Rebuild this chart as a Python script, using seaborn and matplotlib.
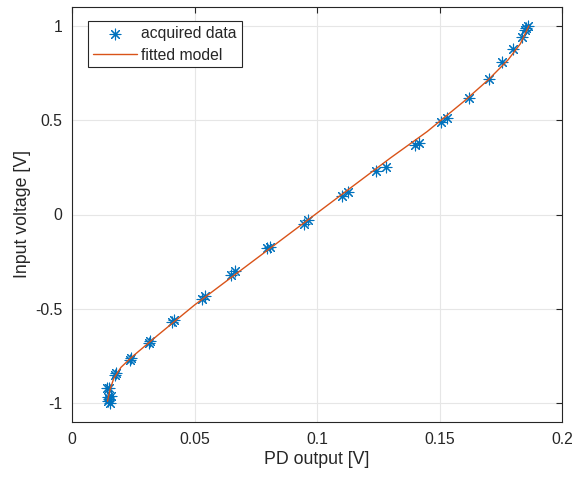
import numpy as np
import pandas as pd
import matplotlib
matplotlib.use("Agg")
import matplotlib.pyplot as plt
import seaborn as sns

# pontos medidos (PD output [V], tensão de entrada [V])
pd_out = [0.0143, 0.0150, 0.0145, 0.0152, 0.0155, 0.0148, 0.0158, 0.0175, 0.0180,
          0.0235, 0.0240, 0.0315, 0.0320, 0.0410, 0.0415, 0.0530, 0.0543,
          0.0650, 0.0665, 0.0795, 0.0810, 0.0945, 0.0965, 0.1100, 0.1125,
          0.1240, 0.1280, 0.1400, 0.1415, 0.1505, 0.1530, 0.1620, 0.1700,
          0.1755, 0.1800, 0.1835, 0.1850, 0.1860, 0.1855]
v_in = [-0.92, -0.92, -0.97, -0.98, -1.00, -0.99, -0.96, -0.85, -0.84,
        -0.77, -0.76, -0.68, -0.67, -0.57, -0.56, -0.45, -0.43,
        -0.32, -0.30, -0.18, -0.17, -0.05, -0.03, 0.10, 0.12,
        0.23, 0.25, 0.37, 0.38, 0.49, 0.51, 0.62, 0.72,
        0.81, 0.88, 0.94, 0.98, 1.00, 0.99]

# curva do modelo ajustado
fit_x = [0.0145, 0.0155, 0.0170, 0.0200, 0.0245, 0.0350, 0.0500, 0.0700,
         0.0900, 0.1100, 0.1300, 0.1450, 0.1600, 0.1700, 0.1780, 0.1830, 0.1865]
fit_y = [-0.99, -0.93, -0.87, -0.81, -0.755, -0.64, -0.48, -0.285,
         -0.09, 0.105, 0.30, 0.44, 0.60, 0.715, 0.82, 0.905, 1.00]

blue = (0.0, 0.447, 0.741)
red = (0.85, 0.325, 0.098)
cinza = (0.15, 0.15, 0.15)

sns.set_style("white")
plt.rcParams["font.family"] = ["Liberation Sans", "DejaVu Sans"]
plt.rcParams["axes.unicode_minus"] = False

fig = plt.figure(figsize=(5.82, 4.79), dpi=100)
ax = fig.add_axes([72 / 582, 57 / 479, 490 / 582, 415 / 479])

df = pd.DataFrame({"x": pd_out, "y": v_in})
sns.scatterplot(data=df, x="x", y="y", ax=ax, marker=(8, 2, 0), s=60,
                color=blue, edgecolor=blue, linewidth=0.8, label="acquired data", zorder=3)
sns.lineplot(x=fit_x, y=fit_y, ax=ax, color=red, linewidth=1.0, sort=False,
             label="fitted model", zorder=4)

ax.set_xlim(0, 0.2)
ax.set_ylim(-1.1, 1.1)
ax.set_xticks([0, 0.05, 0.1, 0.15, 0.2])
ax.set_xticklabels(["0", "0.05", "0.1", "0.15", "0.2"])
ax.set_yticks([-1, -0.5, 0, 0.5, 1])
ax.set_yticklabels(["-1", "-0.5", "0", "0.5", "1"])
ax.grid(True, color=(0.9, 0.9, 0.9), linewidth=0.8)
ax.set_axisbelow(True)
ax.tick_params(direction="in", length=4, width=0.8, colors=cinza, labelsize=11.3,
               top=True, right=True, labelcolor=cinza, pad=7)
for s in ax.spines.values():
    s.set_visible(True)
    s.set_color(cinza)
    s.set_linewidth(0.8)
ax.set_xlabel("PD output [V]", fontsize=12.8, color=cinza, labelpad=3)
ax.set_ylabel("Input voltage [V]", fontsize=12.8, color=cinza, labelpad=3)

leg = ax.legend(loc="upper left", bbox_to_anchor=(16 / 490, 1 - 14 / 415), fontsize=11.3,
                frameon=True, fancybox=False, edgecolor=cinza, framealpha=1,
                borderpad=0.3, labelspacing=0.45, handlelength=2.8,
                handletextpad=0.3, borderaxespad=0)
leg.get_frame().set_linewidth(0.8)
for t in leg.get_texts():
    t.set_color(cinza)

fig.savefig("out.png", dpi=100)
